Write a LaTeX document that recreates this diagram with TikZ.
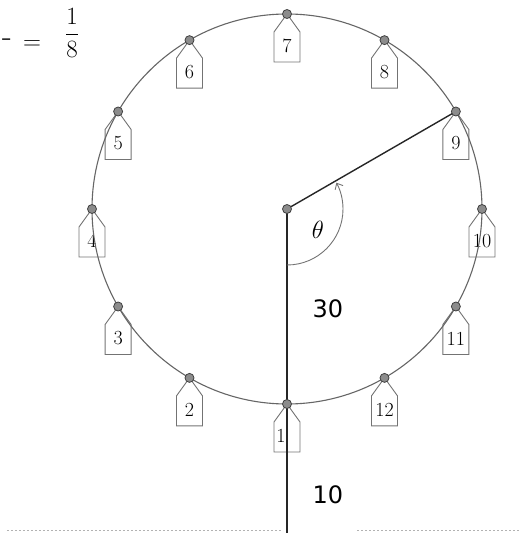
\documentclass[tikz,border=0pt]{standalone}
\usepackage{fontspec}
\newfontfamily\numfont{DejaVu Sans}
\usetikzlibrary{calc,arrows.meta}
\tikzset{
  rim/.style={draw=black!60, line width=1.1pt},
  spoke/.style={draw=black!85, line width=1.4pt},
  tagline/.style={draw=black!55, line width=0.9pt},
  tagnum/.style={font=\fontsize{20}{20}\selectfont, inner sep=0pt},
  pindot/.style={circle, fill=black!45, draw=black!75, line width=0.8pt, minimum size=9pt, inner sep=0pt},
  lenlabel/.style={font=\numfont\fontsize{24}{24}\selectfont, inner sep=0pt},
  hand/.style={font=\fontsize{32}{32}\selectfont, inner sep=0pt},
  anglearc/.style={draw=black!55, line width=0.9pt, -{Straight Barb[length=5pt,width=9pt]}}
}
\begin{document}
\begin{tikzpicture}[x=1pt,y=1pt]
\useasboundingbox (-287,-324) rectangle (232,209);
% handwritten fragment
\node[hand] (hm) at (-280,166) {-};
\node[hand] (he) at (-255,164) {$=$};
\node[hand] (hf) at (-215,176) {$\displaystyle\frac{1}{8}$};
% faint scan line at bottom
\draw[black!30, line width=0.6pt, dash pattern=on 2pt off 2pt] (-280,-321) -- (-5,-321);
\draw[black!30, line width=0.6pt, dash pattern=on 2pt off 2pt] (70,-321) -- (232,-321);
% pin positions and tags
\foreach \i in {1,...,12} {
  \pgfmathsetmacro\a{-90-30*(\i-1)}
  \coordinate (q\i) at (\a:195);
  \draw[tagline] (q\i) -- ++(-13,-18) -- ++(0,-30) -- ++(26,0) -- ++(0,30) -- cycle;
}
\foreach \i in {2,...,12} {
  \node[tagnum] (t\i) at ($(q\i)+(0,-32)$) {\i};
}
\node[tagnum] (t1) at ($(q1)+(-6,-32)$) {1};
% rim
\coordinate (c) at (0,0);
\draw[rim] (c) circle[radius=195];
% spokes
\coordinate (bot) at (0,-324);
\draw[spoke] (c) -- (bot);
\draw[spoke] (c) -- (q9);
% angle
\draw[anglearc] (0,-56) arc[start angle=-90, end angle=28, radius=56];
\node[font=\fontsize{24}{24}\selectfont] (th) at (31,-21) {$\theta$};
% lengths
\node[lenlabel] (l30) at (41,-100) {30};
\node[lenlabel] (l10) at (41,-286) {10};
% pins
\node[pindot] (cdot) at (c) {};
\foreach \i in {1,...,12} {
  \node[pindot] (p\i) at (q\i) {};
}
\end{tikzpicture}
\end{document}
